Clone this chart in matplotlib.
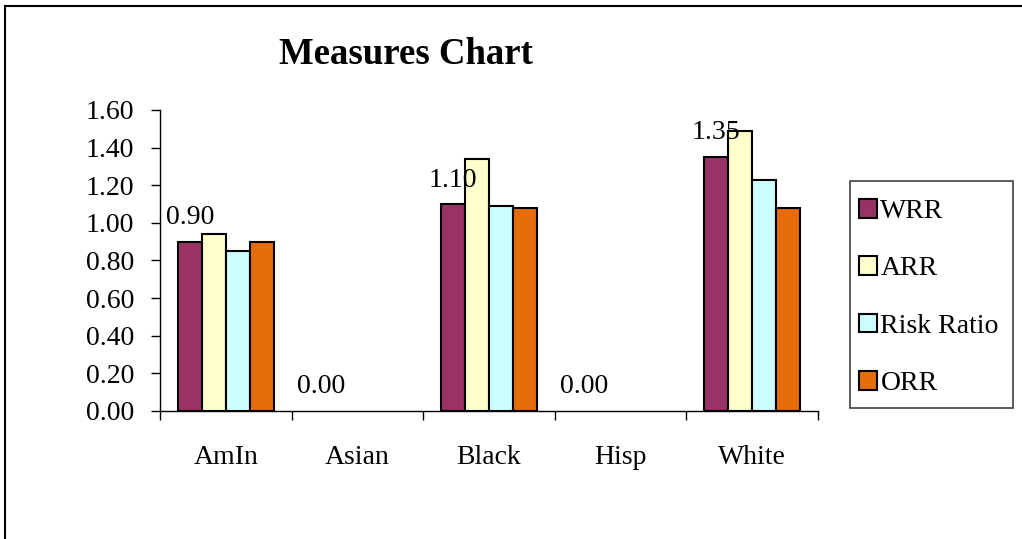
import numpy as np
import matplotlib.pyplot as plt
from matplotlib.patches import Rectangle

categories = ['AmIn', 'Asian', 'Black', 'Hisp', 'White']
series_names = ['WRR', 'ARR', 'Risk Ratio', 'ORR']
wrr = [0.90, 0.00, 1.10, 0.00, 1.35]
arr = [0.94, 0.00, 1.34, 0.00, 1.49]
risk_ratio = [0.85, 0.00, 1.09, 0.00, 1.23]
orr = [0.90, 0.00, 1.08, 0.00, 1.08]
colors = ['#993366', '#FFFFCC', '#CCFFFF', '#E46C0A']
y_ticks = [0.0, 0.2, 0.4, 0.6, 0.8, 1.0, 1.2, 1.4, 1.6]

plt.rcParams['font.family'] = ['Liberation Serif', 'DejaVu Serif']

W, H = 1022, 539
fig = plt.figure(figsize=(W / 100, H / 100), dpi=100)
ax = fig.add_axes([0.1566, 0.2375, 0.6438, 0.5585])

x = np.arange(len(categories))
bar_w = 0.183
values = [wrr, arr, risk_ratio, orr]
for i, (name, vals, c) in enumerate(zip(series_names, values, colors)):
    offs = (i - 1.5) * bar_w
    # empty bars get no outline so they don't thicken the axis line
    lw = [1.5 if v > 0 else 0 for v in vals]
    ax.bar(x + offs, vals, width=bar_w, color=c, edgecolor='black',
           linewidth=lw, label=name, zorder=3)

# value labels over the first series
for xi, v in zip(x, wrr):
    ax.annotate('%.2f' % v, (xi - 1.5 * bar_w, v), xytext=(0, 12.6),
                textcoords='offset points', ha='center', va='baseline',
                fontsize=20)

ax.set_xlim(-0.5, len(categories) - 0.5)
ax.set_ylim(0, 1.6)
ax.set_yticks(y_ticks)
ax.set_yticklabels(['%.2f' % t for t in y_ticks])
ax.set_xticks(x)
ax.set_xticklabels(categories)
ax.set_xticks(np.arange(len(categories) + 1) - 0.5, minor=True)

ax.tick_params(axis='y', length=6.5, width=1, pad=12, labelsize=20)
ax.tick_params(axis='x', which='major', length=0, pad=24.5, labelsize=20)
ax.tick_params(axis='x', which='minor', length=6.5, width=1)
for s in ['top', 'right']:
    ax.spines[s].set_visible(False)
for s in ['left', 'bottom']:
    ax.spines[s].set_linewidth(1)

fig.text(0.397, 1 - 64.3 / H, 'Measures Chart', ha='center',
         va='baseline', fontsize=26.5, fontweight='bold')

leg = ax.legend(loc='upper left', bbox_to_anchor=(859 / W, 1 - 199 / H),
                bbox_transform=fig.transFigure, fontsize=20, frameon=False,
                handlelength=0.65, handleheight=0.65, handletextpad=0.12,
                labelspacing=1.165, borderpad=0, borderaxespad=0)
fig.add_artist(Rectangle((850 / W, 1 - 408 / H), 163 / W, 227 / H,
                         transform=fig.transFigure, fill=False,
                         edgecolor='#404040', linewidth=1.2))

# outer chart frame
fig.add_artist(Rectangle((5 / W, -0.1), 1.2, 1.1 - 6 / H,
                         transform=fig.transFigure, fill=False,
                         edgecolor='black', linewidth=1.5))

fig.savefig('out.png', dpi=100)
